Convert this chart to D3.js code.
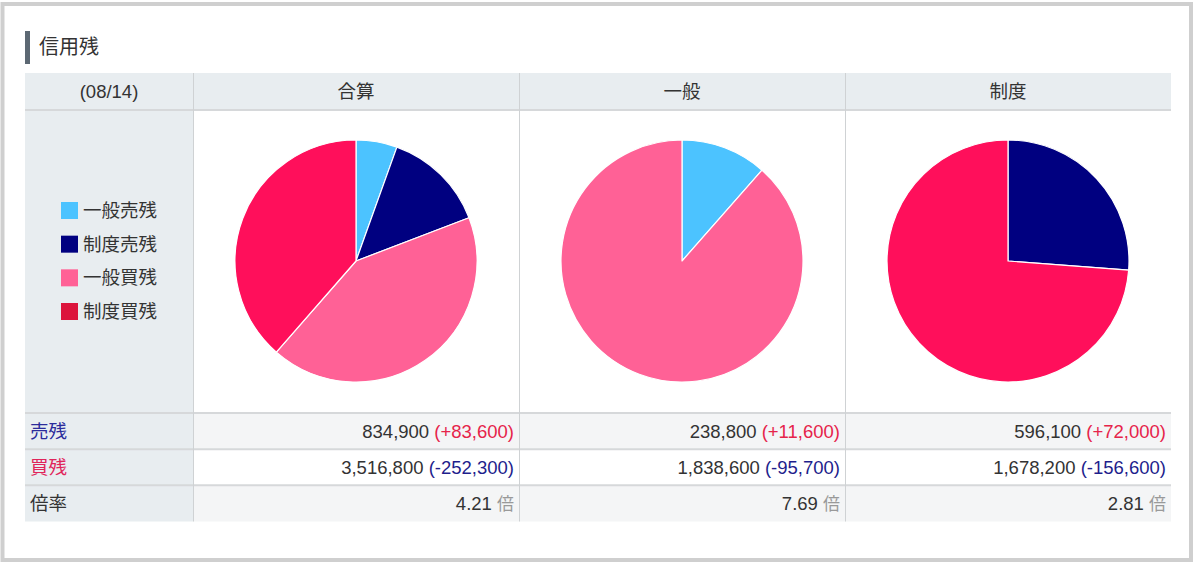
<!DOCTYPE html>
<html><head><meta charset="utf-8">
<script src="https://cdn.jsdelivr.net/npm/d3@7"></script>
<style>
html,body{margin:0;padding:0;background:#fff;}
svg text{font-family:"Liberation Sans","Noto Sans CJK JP",sans-serif;}
</style></head>
<body><svg id="c" width="1195" height="567"></svg>
<script>
const title = "信用残";
const dateLabel = "(08/14)";
const columns = ["合算", "一般", "制度"];
const categories = ["一般売残", "制度売残", "一般買残", "制度買残"];
const sliceColors = ["#4cc3ff", "#000080", "#ff6196", "#ff0f5b"];
const legendColors = ["#4cc3ff", "#000080", "#ff6196", "#dc143c"];
const catValues = [238800, 596100, 1838600, 1678200];
const pieMembers = [[0, 1, 2, 3], [0, 2], [1, 3]];
const rowLabels = ["売残", "買残", "倍率"];
const sellTotals = [834900, 238800, 596100];
const sellChanges = [83600, 11600, 72000];
const buyTotals = [3516800, 1838600, 1678200];
const buyChanges = [-252300, -95700, -156600];
const ratios = [4.21, 7.69, 2.81];

const svg = d3.select("#c");
const fmt = d3.format(",");
const fmtChg = v => "(" + (v >= 0 ? "+" : "-") + fmt(Math.abs(v)) + ")";
const FS = 18.5;

// frame
svg.append("rect").attr("x", 2.5).attr("y", 4).attr("width", 1188.5).attr("height", 556)
  .attr("fill", "#fff").attr("stroke", "#cfcfcf").attr("stroke-width", 4);

// title
svg.append("rect").attr("x", 25).attr("y", 31).attr("width", 5).attr("height", 33).attr("fill", "#5c6873");
svg.append("text").attr("x", 39).attr("y", 54).attr("font-size", 20).attr("fill", "#333").text(title);

// table geometry
const colX = d3.scaleOrdinal().domain([-1, 0, 1, 2]).range([25, 193, 519, 845]);
const colW = [168, 326, 326, 326];
const tableRight = 1171;
const headerTop = 73, headerBot = 110, pieBot = 413;
const rowY = d3.scaleBand().domain(d3.range(3)).range([413, 521.5]);

// header bg
svg.append("rect").attr("x", 25).attr("y", headerTop).attr("width", tableRight - 25).attr("height", headerBot - headerTop).attr("fill", "#e8edf0");
// first column bg
svg.append("rect").attr("x", 25).attr("y", headerBot).attr("width", 168).attr("height", 521.5 - headerBot).attr("fill", "#e8edf0");
// data row bgs
rowY.domain().forEach(i => {
  svg.append("rect").attr("x", 193).attr("y", rowY(i)).attr("width", tableRight - 193).attr("height", rowY.bandwidth())
    .attr("fill", i === 1 ? "#ffffff" : "#f4f5f6");
});
// horizontal lines
[headerBot, pieBot, rowY(1), rowY(2)].forEach(y => {
  svg.append("line").attr("x1", 25).attr("x2", tableRight).attr("y1", y).attr("y2", y)
    .attr("stroke", "#d6d8da").attr("stroke-width", 2);
});
// vertical lines
[193, 519, 845].forEach(x => {
  svg.append("line").attr("x1", x + 0.5).attr("x2", x + 0.5).attr("y1", headerTop).attr("y2", 521.5)
    .attr("stroke", "#cfd2d4").attr("stroke-width", 1);
});

// header text
svg.append("text").attr("x", 109).attr("y", 98).attr("text-anchor", "middle").attr("font-size", FS).attr("fill", "#333").text(dateLabel);
columns.forEach((c, i) => {
  svg.append("text").attr("x", colX(i) + 163).attr("y", 98).attr("text-anchor", "middle").attr("font-size", FS).attr("fill", "#333").text(c);
});

// legend
const legY = d3.scalePoint().domain(categories).range([210, 311]);
categories.forEach((c, i) => {
  svg.append("rect").attr("x", 61).attr("y", legY(c) - 8).attr("width", 17).attr("height", 17).attr("fill", legendColors[i]);
  svg.append("text").attr("x", 83).attr("y", legY(c) + 7).attr("font-size", FS).attr("fill", "#333").text(c);
});

// pies
const radius = 121;
const pie = d3.pie().sort(null).value(d => d.v);
const arc = d3.arc().innerRadius(0).outerRadius(radius);
pieMembers.forEach((mem, i) => {
  const data = mem.map(k => ({k, v: catValues[k]}));
  const g = svg.append("g").attr("transform", `translate(${colX(i) + 163},261)`);
  g.selectAll("path").data(pie(data)).join("path")
    .attr("d", arc).attr("fill", d => sliceColors[d.data.k])
    .attr("stroke", "#fff").attr("stroke-width", 1.2).attr("stroke-linejoin", "round");
});

// row labels
const labelColors = ["#2b2b9b", "#e0245a", "#333"];
rowLabels.forEach((l, i) => {
  svg.append("text").attr("x", 30).attr("y", rowY(i) + 25).attr("font-size", FS).attr("fill", labelColors[i]).text(l);
});

// data cells
columns.forEach((c, i) => {
  const xr = colX(i) + colW[i + 1] - 5;
  const t1 = svg.append("text").attr("x", xr).attr("y", rowY(0) + 25).attr("text-anchor", "end").attr("font-size", FS);
  t1.append("tspan").attr("fill", "#333").text(fmt(sellTotals[i]) + " ");
  t1.append("tspan").attr("fill", "#e6244a").text(fmtChg(sellChanges[i]));
  const t2 = svg.append("text").attr("x", xr).attr("y", rowY(1) + 25).attr("text-anchor", "end").attr("font-size", FS);
  t2.append("tspan").attr("fill", "#333").text(fmt(buyTotals[i]) + " ");
  t2.append("tspan").attr("fill", "#1e1e8c").text(fmtChg(buyChanges[i]));
  const t3 = svg.append("text").attr("x", xr).attr("y", rowY(2) + 25).attr("text-anchor", "end").attr("font-size", FS);
  t3.append("tspan").attr("fill", "#333").text(ratios[i].toFixed(2) + " ");
  t3.append("tspan").attr("fill", "#999").attr("font-size", 17).text("倍");
});
</script></body></html>
